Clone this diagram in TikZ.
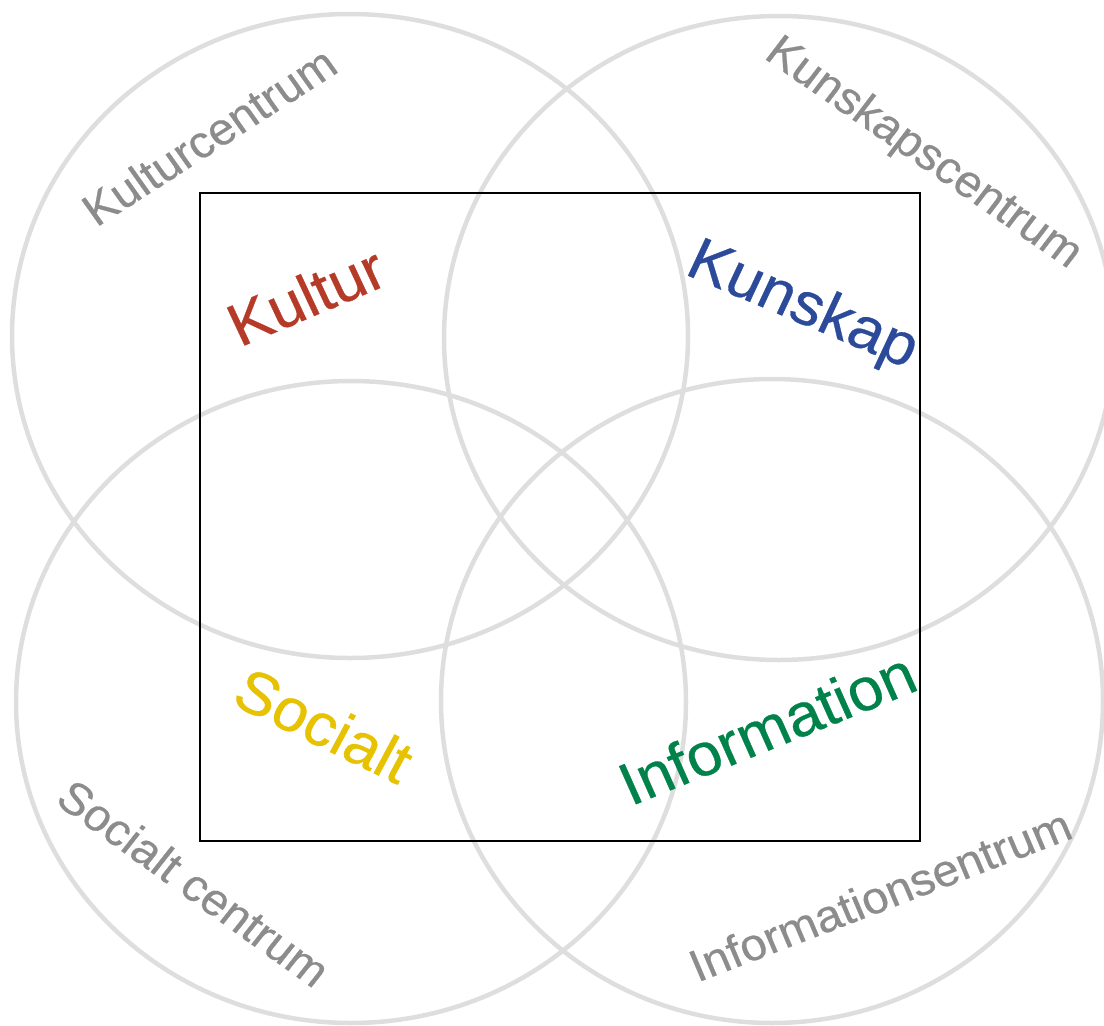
\documentclass[tikz,border=0pt]{standalone}
\usepackage{fontspec}
\setmainfont{Liberation Sans}
\newfontfamily\labfont[FakeBold=0.5]{Liberation Sans}
\definecolor{ringgray}{HTML}{DEDEDE}
\definecolor{labgray}{HTML}{8C8C8C}
\definecolor{kred}{HTML}{B63A28}
\definecolor{kblue}{HTML}{2C4A9A}
\definecolor{kyellow}{HTML}{E6C200}
\definecolor{kgreen}{HTML}{00824A}
\begin{document}
\begin{tikzpicture}[x=1pt,y=-1pt,
  ring/.style={draw=ringgray, line width=4.5pt},
  frame/.style={draw=black, line width=2pt},
  ctr/.style={text=labgray, font=\labfont\fontsize{45}{54}\selectfont, inner sep=0pt, xscale=1.05},
  big/.style={font=\labfont\fontsize{60}{72}\selectfont, inner sep=0pt, xscale=1.05}]
\useasboundingbox (0,0) rectangle (1104,1026);
\clip (0,0) rectangle (1104,1026);
% circles
\draw[ring] (350,336) ellipse [x radius=338, y radius=322];
\draw[ring] (779,338) ellipse [x radius=335, y radius=322];
\draw[ring] (351,702) ellipse [x radius=335, y radius=321];
\draw[ring] (772,701) ellipse [x radius=331, y radius=322];
% frame
\draw[frame] (200,193) rectangle (920,841);
% outer labels
\node[ctr, rotate=34]  (kc)  at (209,136) {Kulturcentrum};
\node[ctr, rotate=-36] (kpc) at (923,154) {Kunskapscentrum};
\node[ctr, rotate=-37] (sc)  at (194,883) {Socialt centrum};
\node[ctr, rotate=22]  (ic)  at (880,895) {Informationsentrum};
% inner labels
\node[big, text=kred, rotate=24]     (kul) at (306,296) {Kultur};
\node[big, text=kblue, rotate=-24]   (kun) at (802,307) {Kunskap};
\node[big, text=kyellow, rotate=-27] (soc) at (324,725) {Socialt};
\node[big, text=kgreen, rotate=23]   (inf) at (767,728) {Information};
\end{tikzpicture}
\end{document}
